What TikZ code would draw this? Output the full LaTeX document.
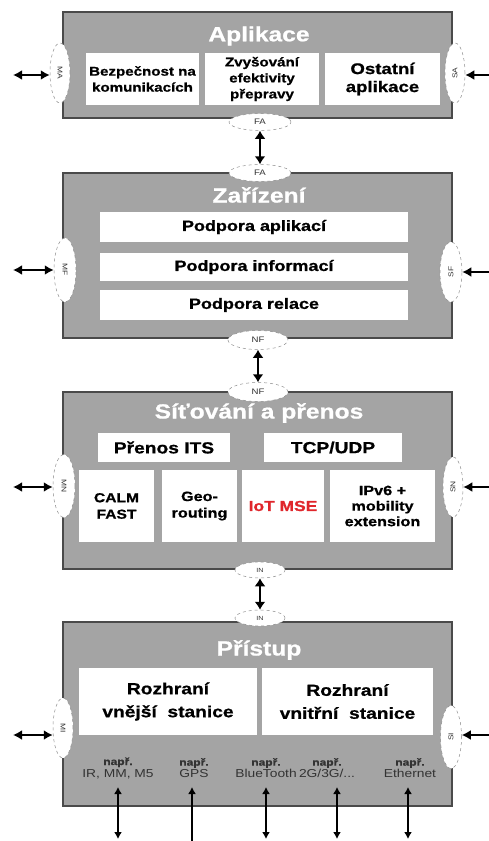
\documentclass[tikz,border=0pt]{standalone}
\usepackage{fontspec}
\setmainfont{Liberation Sans}[FakeStretch=1.2, BoldFeatures={FakeBold=0.8}]
\usetikzlibrary{arrows.meta,shapes.geometric}
\definecolor{boxgray}{HTML}{A4A4A4}
\definecolor{edgegray}{HTML}{4A4A4A}
\definecolor{iotred}{HTML}{E0262B}
\definecolor{ifgray}{HTML}{8C8C8C}
\definecolor{txtgray}{HTML}{333333}
\tikzset{
  layer/.style={rectangle, fill=boxgray, draw=edgegray, line width=1.3pt, inner sep=0pt},
  wbox/.style={rectangle, fill=white, draw=none, inner sep=0pt, align=center, font=\bfseries},
  ltitle/.style={text=white, font=\bfseries\fontsize{20.5}{24}\selectfont},
  iface/.style={ellipse, fill=white, draw=ifgray, dashed, line width=0.5pt, inner sep=0pt,
    text=txtgray, font=\fontsize{7}{8}\selectfont},
  dbl/.style={{Latex[length=9pt,width=10pt]}-{Latex[length=9pt,width=10pt]}, line width=2.6pt, black},
  vdbl/.style={{Latex[length=8pt,width=11pt]}-{Latex[length=8pt,width=11pt]}, line width=2.8pt, black},
  bdbl/.style={{Latex[length=7pt,width=8pt]}-{Latex[length=7pt,width=8pt]}, line width=1.8pt, black},
  bup/.style={{Latex[length=7pt,width=8pt]}-, line width=1.8pt, black},
  expl/.style={align=center, text=txtgray, inner sep=0pt},
}
\newcommand{\expltext}[1]{{\bfseries\fontsize{10}{16}\selectfont např.}\\{\fontsize{11.5}{16}\selectfont #1}}
\begin{document}
\begin{tikzpicture}[x=1pt,y=-1pt]
\useasboundingbox (0,0) rectangle (489,841);
\clip (0,0) rectangle (489,841);

% ---------- Layer 1: Aplikace ----------
\node[layer, minimum width=389pt, minimum height=106pt] (L1) at (257.5,65) {};
\node[ltitle] (T1) at (259,36) {Aplikace};
\node[wbox, minimum width=113pt, minimum height=52pt, font=\bfseries\fontsize{12.6}{16}\selectfont] (A1) at (142.5,79) {Bezpečnost na\\komunikacích};
\node[wbox, minimum width=114pt, minimum height=52pt, font=\bfseries\fontsize{12.6}{16}\selectfont] (A2) at (262,79) {Zvyšování\\efektivity\\přepravy};
\node[wbox, minimum width=115pt, minimum height=52pt, font=\bfseries\fontsize{15.5}{18}\selectfont] (A3) at (382.5,79) {Ostatní\\aplikace};
\node[iface, minimum width=20pt, minimum height=60pt] (MA) at (60,73) {\rotatebox{-90}{MA}};
\node[iface, minimum width=20pt, minimum height=60pt] (SA) at (455,73) {\rotatebox{90}{SA}};
\node[iface, minimum width=62pt, minimum height=17pt, font=\fontsize{8}{9}\selectfont] (FA1) at (260,122) {FA};

% ---------- Layer 2: Zařízení ----------
\node[layer, minimum width=389pt, minimum height=165pt] (L2) at (257.5,255.5) {};
\node[iface, minimum width=62pt, minimum height=17pt, font=\fontsize{8}{9}\selectfont] (FA2) at (260,173) {FA};
\node[ltitle] (T2) at (259,195) {Zařízení};
\node[wbox, minimum width=308pt, minimum height=30pt, font=\bfseries\fontsize{15}{18}\selectfont] (Z1) at (254,227) {Podpora aplikací};
\node[wbox, minimum width=308pt, minimum height=28pt, font=\bfseries\fontsize{15}{18}\selectfont] (Z2) at (254,267) {Podpora informací};
\node[wbox, minimum width=308pt, minimum height=30pt, font=\bfseries\fontsize{15}{18}\selectfont] (Z3) at (254,305) {Podpora relace};
\node[iface, minimum width=22pt, minimum height=64pt] (MF) at (65,270) {\rotatebox{-90}{MF}};
\node[iface, minimum width=22pt, minimum height=60pt] (SF) at (451,272) {\rotatebox{90}{SF}};
\node[iface, minimum width=60pt, minimum height=19pt, font=\fontsize{8}{9}\selectfont] (NF1) at (258,340) {NF};

% ---------- Layer 3: Síťování a přenos ----------
\node[layer, minimum width=389pt, minimum height=177pt] (L3) at (257.5,480.5) {};
\node[iface, minimum width=60pt, minimum height=19pt, font=\fontsize{8}{9}\selectfont] (NF2) at (258,392) {NF};
\node[ltitle] (T3) at (259,413) {Síťování a přenos};
\node[wbox, minimum width=132pt, minimum height=29pt, font=\bfseries\fontsize{16}{18}\selectfont] (S1) at (164,447.5) {Přenos ITS};
\node[wbox, minimum width=138pt, minimum height=29pt, font=\bfseries\fontsize{16}{18}\selectfont] (S2) at (333,447.5) {TCP/UDP};
\node[wbox, minimum width=75pt, minimum height=72pt, font=\bfseries\fontsize{13}{16.5}\selectfont] (S3) at (116.5,506) {CALM\\FAST};
\node[wbox, minimum width=75pt, minimum height=72pt, font=\bfseries\fontsize{13.5}{16.5}\selectfont] (S4) at (199.5,506) {Geo-\\routing};
\node[wbox, minimum width=82pt, minimum height=72pt, text=iotred, font=\bfseries\fontsize{14.5}{17}\selectfont] (S5) at (283,506) {IoT MSE};
\node[wbox, minimum width=105pt, minimum height=72pt, font=\bfseries\fontsize{13.5}{15.5}\selectfont] (S6) at (382.5,506) {IPv6 +\\mobility\\extension};
\node[iface, minimum width=22pt, minimum height=63pt] (MN) at (64,486) {\rotatebox{-90}{MN}};
\node[iface, minimum width=20pt, minimum height=60pt] (SN) at (453,487) {\rotatebox{90}{SN}};
\node[iface, minimum width=50pt, minimum height=16pt, font=\fontsize{6}{7}\selectfont] (IN1) at (260,570) {IN};

% ---------- Layer 4: Přístup ----------
\node[layer, minimum width=389pt, minimum height=184pt] (L4) at (257.5,714) {};
\node[iface, minimum width=50pt, minimum height=16pt, font=\fontsize{6}{7}\selectfont] (IN2) at (260,618) {IN};
\node[ltitle] (T4) at (259,650) {Přístup};
\node[wbox, minimum width=178pt, minimum height=67pt, font=\bfseries\fontsize{16}{23}\selectfont] (P1) at (168,701.5) {Rozhraní\\vnější\ \ stanice};
\node[wbox, minimum width=171pt, minimum height=67pt, font=\bfseries\fontsize{16}{23}\selectfont] (P2) at (347.5,701.5) {Rozhraní\\vnitřní\ \ stanice};
\node[iface, minimum width=20pt, minimum height=60pt] (MI) at (63,728) {\rotatebox{-90}{MI}};
\node[iface, minimum width=21pt, minimum height=63pt] (SI) at (451,737) {\rotatebox{90}{SI}};
\node[expl] (E1) at (118,768) {\expltext{IR, MM, M5}};
\node[expl] (E2) at (194,768) {\expltext{GPS}};
\node[expl] (E3) at (266,768) {\expltext{BlueTooth}};
\node[expl] (E4) at (327,768) {\expltext{2G/3G/...}};
\node[expl] (E5) at (410,768) {\expltext{Ethernet}};

% ---------- side connectors ----------
\coordinate (xMA) at (13,75);
\coordinate (xSA) at (500,75);
\coordinate (xMF) at (13,270);
\coordinate (xSF) at (500,272);
\coordinate (xMN) at (13,487);
\coordinate (xSN) at (500,487);
\coordinate (xMI) at (13,735);
\coordinate (xSI) at (500,735);
\draw[dbl] (xMA) -- (xMA -| MA.west);
\draw[dbl] (xSA) -- (xSA -| SA.east);
\draw[dbl] (xMF) -- (xMF -| MF.west);
\draw[dbl] (xSF) -- (xSF -| SF.east);
\draw[dbl] (xMN) -- (xMN -| MN.west);
\draw[dbl] (xSN) -- (xSN -| SN.east);
\draw[dbl] (xMI) -- (xMI -| MI.west);
\draw[dbl] (xSI) -- (xSI -| SI.east);

% ---------- vertical connectors between layers ----------
\draw[vdbl] (FA1.south) -- (FA2.north);
\draw[vdbl] (NF1.south) -- (NF2.north);
\draw[vdbl] (IN1.south) -- (IN2.north);

% ---------- bottom connectors ----------
\coordinate (t1) at (118,787); \coordinate (b1) at (118,839);
\coordinate (t2) at (192,787); \coordinate (b2) at (192,845);
\coordinate (t3) at (266,787); \coordinate (b3) at (266,839);
\coordinate (t4) at (337,787); \coordinate (b4) at (337,839);
\coordinate (t5) at (408,787); \coordinate (b5) at (408,839);
\draw[bdbl] (t1) -- (b1);
\draw[bup] (t2) -- (b2);
\draw[bdbl] (t3) -- (b3);
\draw[bdbl] (t4) -- (b4);
\draw[bdbl] (t5) -- (b5);
\end{tikzpicture}
\end{document}
